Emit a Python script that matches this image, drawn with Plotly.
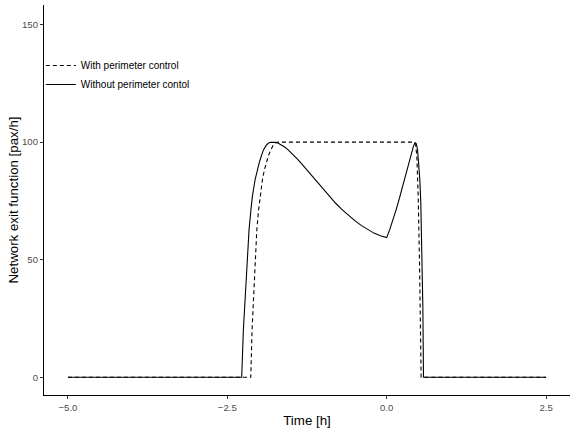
import plotly.graph_objects as go

# "With perimeter control" (dashed)
t_with = [-5.0, -2.132, -2.112, -2.09, -2.064, -2.037, -2.01, -1.985, -1.949, -1.92,
          -1.891, -1.855, -1.817, -1.785, -1.749, -1.72, -1.697, 0.43, 0.455, 0.473,
          0.494, 0.515, 0.53, 0.54, 2.5]
g_with = [0, 0, 20, 34.3, 48.5, 62.7, 71.0, 76.9, 84.0, 88.0,
          91.1, 94.3, 96.7, 98.4, 99.6, 99.95, 100, 100, 98.5, 94.0,
          76.9, 48.5, 20.0, 0, 0]

# "Without perimeter contol" (solid)
t_without = [-5.0, -2.274, -2.248, -2.222, -2.195, -2.159, -2.13, -2.107, -2.064, -2.03,
             -2.001, -1.965, -1.933, -1.89, -1.854, -1.82, -1.785, -1.74, -1.70, -1.65,
             -1.60, -1.55, -1.50, -1.45, -1.40, -1.35, -1.30, -1.20, -1.10, -1.00,
             -0.90, -0.80, -0.70, -0.60, -0.50, -0.40, -0.30, -0.20, -0.10, 0.0,
             0.05, 0.10, 0.15, 0.20, 0.25, 0.30, 0.35, 0.39, 0.42, 0.446,
             0.465, 0.484, 0.50, 0.52, 0.535, 0.546, 0.557, 0.567, 0.577, 2.5]
g_without = [0, 0, 20.1, 34.3, 48.5, 62.7, 71.0, 76.9, 84.0, 88.0,
             91.1, 94.2, 96.7, 98.6, 99.6, 99.95, 100, 99.9, 99.5, 98.8,
             97.9, 96.8, 95.6, 94.2, 92.8, 91.3, 89.7, 86.4, 83.2, 80.0,
             76.9, 74.0, 71.3, 68.9, 66.6, 64.6, 62.8, 61.3, 60.2, 59.4,
             63.0, 67.0, 71.4, 76.2, 81.3, 86.5, 91.6, 95.4, 98.3, 99.8,
             99.3, 96.7, 92.0, 84.0, 74.0, 62.7, 48.0, 30.0, 0, 0]

x_ticks = [-5.0, -2.5, 0.0, 2.5]
x_ticklabels = ["\u22125.0", "\u22122.5", "0.0", "2.5"]
y_ticks = [0, 50, 100, 150]

fig = go.Figure()
fig.add_trace(go.Scatter(x=t_with, y=g_with, mode="lines", name="With perimeter control",
                         line=dict(color="black", width=1.1, dash="4px,3px")))
fig.add_trace(go.Scatter(x=t_without, y=g_without, mode="lines", name="Without perimeter contol",
                         line=dict(color="black", width=1.1)))

axis_style = dict(showgrid=False, zeroline=False, showline=True, linecolor="black",
                  linewidth=1.1, ticks="outside", ticklen=3, tickwidth=1.1,
                  tickcolor="#333333", tickfont=dict(size=9.6, color="#4D4D4D"))

fig.update_xaxes(range=[-5.375, 2.875], tickvals=x_ticks, ticktext=x_ticklabels,
                 title=dict(text="Time [h]", font=dict(size=13.3, color="black"), standoff=4),
                 **axis_style)
fig.update_yaxes(range=[-7.53, 158.3], tickvals=y_ticks,
                 title=dict(text="Network exit function [pax/h]", font=dict(size=13.3, color="black"), standoff=0),
                 **axis_style)

fig.update_layout(
    width=576, height=432,
    margin=dict(l=44, r=6, t=5, b=37),
    paper_bgcolor="white", plot_bgcolor="white",
    font=dict(family="Liberation Sans, Arial, sans-serif", color="black"),
    showlegend=True,
    legend=dict(x=-0.006, y=0.882, xanchor="left", yanchor="top",
                bgcolor="rgba(0,0,0,0)", font=dict(size=10, color="black"),
                itemwidth=30),
)

fig.write_html("out.html", config={"displayModeBar": False},
               post_script="document.body.style.margin='0';")
